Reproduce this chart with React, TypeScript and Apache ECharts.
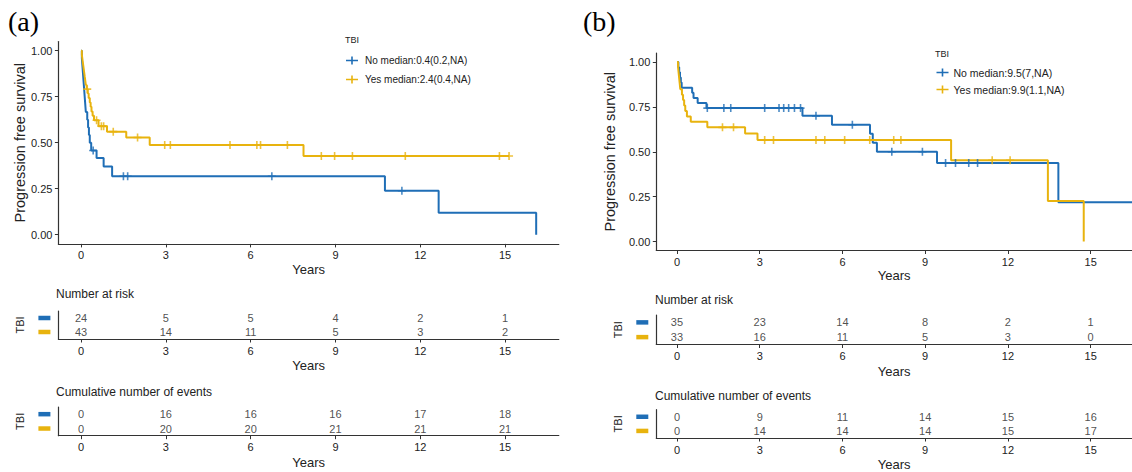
import { useEffect, useRef } from 'react';
import * as echarts from 'echarts';

// ---------- data ----------
const xTicks = [0, 3, 6, 9, 12, 15];
const yTicks = [0, 0.25, 0.5, 0.75, 1];
const tableTimes = [0, 3, 6, 9, 12, 15];
const strata = ['No', 'Yes'];

// Panel (a)
const aNoName = 'No median:0.4(0.2,NA)';
const aYesName = 'Yes median:2.4(0.4,NA)';
const aNoTimes = [0, 0.03, 0.05, 0.07, 0.09, 0.11, 0.13, 0.15, 0.17, 0.22, 0.25, 0.28, 0.31, 0.36, 0.55, 0.8, 1.1, 10.75, 12.65, 16.1];
const aNoSurv = [1, 0.958, 0.917, 0.875, 0.833, 0.792, 0.75, 0.708, 0.667, 0.625, 0.583, 0.542, 0.5, 0.458, 0.417, 0.37, 0.318, 0.239, 0.119, 0];
const aNoCensor = [0.43, 1.5, 1.65, 6.75, 11.35];
const aYesTimes = [0, 0.03, 0.05, 0.07, 0.09, 0.11, 0.13, 0.15, 0.17, 0.2, 0.24, 0.27, 0.31, 0.34, 0.37, 0.41, 0.46, 0.62, 0.92, 1.6, 2.43, 7.87, 15.14];
const aYesSurv = [1, 0.977, 0.953, 0.93, 0.907, 0.884, 0.86, 0.837, 0.814, 0.791, 0.767, 0.743, 0.719, 0.695, 0.67, 0.646, 0.622, 0.59, 0.56, 0.528, 0.487, 0.428, 0.428];
const aYesCensor = [0.22, 0.55, 0.72, 0.8, 1.14, 2.0, 2.96, 3.16, 5.27, 6.22, 6.35, 7.3, 8.5, 8.97, 9.6, 11.47, 14.8, 15.14];
const aRiskNo = [24, 5, 5, 4, 2, 1];
const aRiskYes = [43, 14, 11, 5, 3, 2];
const aEventsNo = [0, 16, 16, 16, 17, 18];
const aEventsYes = [0, 20, 20, 21, 21, 21];

// Panel (b)
const bNoName = 'No median:9.5(7,NA)';
const bYesName = 'Yes median:9.9(1.1,NA)';
const bNoTimes = [0, 0.05, 0.08, 0.11, 0.14, 0.17, 0.55, 0.6, 0.75, 1.07, 4.55, 5.62, 7.0, 7.1, 7.25, 9.43, 13.83, 17.6];
const bNoSurv = [1, 0.971, 0.943, 0.914, 0.886, 0.857, 0.829, 0.8, 0.771, 0.743, 0.7, 0.65, 0.6, 0.55, 0.5, 0.438, 0.219, 0.219];
const bNoCensor = [1.1, 1.7, 1.95, 3.18, 3.7, 3.87, 4.05, 4.26, 4.48, 5.04, 6.36, 7.79, 8.9, 9.74, 10.1, 10.58, 10.9];
const bYesTimes = [0, 0.04, 0.06, 0.08, 0.1, 0.12, 0.18, 0.22, 0.26, 0.3, 0.36, 0.5, 1.1, 2.47, 2.92, 9.94, 13.45, 14.75];
const bYesSurv = [1, 0.97, 0.939, 0.909, 0.879, 0.848, 0.818, 0.788, 0.758, 0.727, 0.697, 0.667, 0.636, 0.601, 0.566, 0.453, 0.226, 0];
const bYesCensor = [1.65, 2.05, 3.18, 3.5, 5.04, 5.36, 6.08, 6.99, 7.86, 8.12, 11.43, 12.08];
const bRiskNo = [35, 23, 14, 8, 2, 1];
const bRiskYes = [33, 16, 11, 5, 3, 0];
const bEventsNo = [0, 9, 11, 14, 15, 16];
const bEventsYes = [0, 14, 14, 14, 15, 17];

// ---------- styles ----------
const BLUE = '#1f6eb6';
const YELLOW = '#e8b30e';
const FONT = '"Liberation Sans", Arial, sans-serif';
const TXT = '#222';
const AXIS = '#333';
const PLUS = 'path://M4,0L6,0L6,4L10,4L10,6L6,6L6,10L4,10L4,6L0,6L0,4L4,4Z';
const LEGEND_ICON = 'path://M0,3.2L12,3.2L12,4.8L0,4.8Z M5.2,0L6.8,0L6.8,8L5.2,8Z';

function survAt(times: number[], surv: number[], t: number) {
  let v = surv[0];
  for (let i = 0; i < times.length; i++) if (times[i] <= t) v = surv[i];
  return v;
}
const zip = (a: number[], b: number[]) => a.map((t, i) => [t, b[i]]);

export default function App() {
  const ref = useRef<HTMLDivElement>(null);
  useEffect(() => {
    document.body.style.margin = '0';
    const chart = echarts.init(ref.current!, undefined, { renderer: 'svg' });

    const panels = [
      { xmin: -0.8, xmax: 16.9, left: 58.4, width: 500.4, main: [41.5, 202.4], risk: [311, 28], ev: [407, 28.7], yNameGap: 31, xNameGap: 19 },
      { xmin: -0.75, xmax: 16.5, left: 656.3, width: 476.1, main: [53, 197.5], risk: [315, 29.5], ev: [409.7, 28.6], yNameGap: 39, xNameGap: 18 },
    ];
    const grids: any[] = [];
    const xAxes: any[] = [];
    const yAxes: any[] = [];
    panels.forEach((p) => {
      [p.main, p.risk, p.ev].forEach((g, k) => {
        grids.push({ left: p.left, width: p.width, top: g[0], height: g[1] });
        const gi = grids.length - 1;
        xAxes.push({
          type: 'value', gridIndex: gi, min: p.xmin, max: p.xmax,
          name: 'Years', nameLocation: 'middle', nameGap: k === 0 ? p.xNameGap : 20,
          nameTextStyle: { fontSize: 13, color: TXT, fontFamily: FONT },
          axisLine: { show: true, onZero: false, lineStyle: { color: AXIS, width: 1.2 } },
          axisTick: { show: true, customValues: xTicks, length: 3.5, lineStyle: { color: AXIS } },
          axisLabel: { customValues: xTicks, fontSize: 11, color: TXT, fontFamily: FONT, margin: 6 },
          splitLine: { show: false },
        });
        if (k === 0) {
          yAxes.push({
            type: 'value', gridIndex: gi, min: -0.05, max: 1.05,
            name: 'Progression free survival', nameLocation: 'middle', nameGap: p.yNameGap,
            nameTextStyle: { fontSize: 14.5, color: TXT, fontFamily: FONT },
            axisLine: { show: true, onZero: false, lineStyle: { color: AXIS, width: 1.2 } },
            axisTick: { show: true, customValues: yTicks, length: 3.5, lineStyle: { color: AXIS } },
            axisLabel: { customValues: yTicks, fontSize: 11, color: TXT, fontFamily: FONT, margin: 6, formatter: (v: number) => v.toFixed(2) },
            splitLine: { show: false },
          });
        } else {
          yAxes.push({
            type: 'category', gridIndex: gi, data: strata, inverse: true,
            name: 'TBI', nameLocation: 'middle', nameGap: 33, nameRotate: 90,
            nameTextStyle: { fontSize: 11, color: TXT, fontFamily: FONT },
            axisLine: { show: true, onZero: false, lineStyle: { color: AXIS, width: 1.2 } },
            axisTick: { show: false },
            axisLabel: {
              margin: 8,
              interval: 0,
              formatter: (v: string) => (v === 'No' ? '{n| }' : '{y| }'),
              rich: {
                n: { width: 12, height: 4.5, backgroundColor: BLUE, fontSize: 4, lineHeight: 4.5 },
                y: { width: 12, height: 4.5, backgroundColor: YELLOW, fontSize: 4, lineHeight: 4.5 },
              },
            },
            splitLine: { show: false },
          });
        }
      });
    });

    const km = (name: string, times: number[], surv: number[], color: string, axis: number) => ({
      name, type: 'line', step: 'end', xAxisIndex: axis, yAxisIndex: axis,
      data: zip(times, surv), symbol: 'none', color,
      itemStyle: { color }, lineStyle: { color, width: 2 }, silent: true, z: 2,
    });
    const cens = (name: string, times: number[], surv: number[], ct: number[], color: string, axis: number) => ({
      name: name + ' censored', type: 'scatter', xAxisIndex: axis, yAxisIndex: axis,
      data: ct.map((t) => [t, survAt(times, surv, t)]), symbol: PLUS, symbolSize: 8,
      itemStyle: { color }, silent: true, z: 3,
    });
    const table = (no: number[], yes: number[], axis: number) => ({
      type: 'scatter', xAxisIndex: axis, yAxisIndex: axis, symbolSize: 1, silent: true,
      itemStyle: { color: 'transparent' },
      data: [
        ...tableTimes.map((t, i) => [t, 'No', no[i]]),
        ...tableTimes.map((t, i) => [t, 'Yes', yes[i]]),
      ],
      label: { show: true, position: 'inside', formatter: (p: any) => String(p.value[2]), fontSize: 11, color: TXT, fontFamily: FONT },
    });

    const txt = (text: string, x: number, y: number, fontSize: number, extra: any = {}) => ({
      type: 'text', x, y, silent: true,
      style: { text, fontSize, fontFamily: FONT, fill: TXT, verticalAlign: 'middle', align: 'left', ...extra },
    });

    chart.setOption({
      animation: false,
      grid: grids,
      xAxis: xAxes,
      yAxis: yAxes,
      legend: [
        { data: [aNoName, aYesName], orient: 'vertical', left: 346, top: 55, itemWidth: 12, itemHeight: 8, itemGap: 8, padding: 0, icon: LEGEND_ICON, selectedMode: false, textStyle: { fontSize: 10, lineHeight: 11, color: TXT, fontFamily: FONT, padding: [0, 0, 0, 2] } },
        { data: [bNoName, bYesName], orient: 'vertical', left: 936.5, top: 67, itemWidth: 12, itemHeight: 8, itemGap: 6, padding: 0, icon: LEGEND_ICON, selectedMode: false, textStyle: { fontSize: 10.5, lineHeight: 11, color: TXT, fontFamily: FONT } },
      ],
      graphic: [
        txt('(a)', 8, 21, 28, { fontFamily: '"Liberation Serif", "Times New Roman", serif', fill: '#000' }),
        txt('(b)', 583, 21, 28, { fontFamily: '"Liberation Serif", "Times New Roman", serif', fill: '#000' }),
        txt('TBI', 345, 40, 9),
        txt('TBI', 935, 54, 9),
        txt('Number at risk', 56, 294, 12),
        txt('Cumulative number of events', 56, 392, 12),
        txt('Number at risk', 655, 300, 12),
        txt('Cumulative number of events', 655, 396, 12),
      ],
      series: [
        km(aNoName, aNoTimes, aNoSurv, BLUE, 0),
        km(aYesName, aYesTimes, aYesSurv, YELLOW, 0),
        cens(aNoName, aNoTimes, aNoSurv, aNoCensor, BLUE, 0),
        cens(aYesName, aYesTimes, aYesSurv, aYesCensor, YELLOW, 0),
        table(aRiskNo, aRiskYes, 1),
        table(aEventsNo, aEventsYes, 2),
        km(bNoName, bNoTimes, bNoSurv, BLUE, 3),
        km(bYesName, bYesTimes, bYesSurv, YELLOW, 3),
        cens(bNoName, bNoTimes, bNoSurv, bNoCensor, BLUE, 3),
        cens(bYesName, bYesTimes, bYesSurv, bYesCensor, YELLOW, 3),
        table(bRiskNo, bRiskYes, 4),
        table(bEventsNo, bEventsYes, 5),
      ],
    });
    return () => chart.dispose();
  }, []);
  return <div ref={ref} style={{ position: 'fixed', left: 0, top: 0, width: 1132, height: 472, background: '#fff' }} />;
}
